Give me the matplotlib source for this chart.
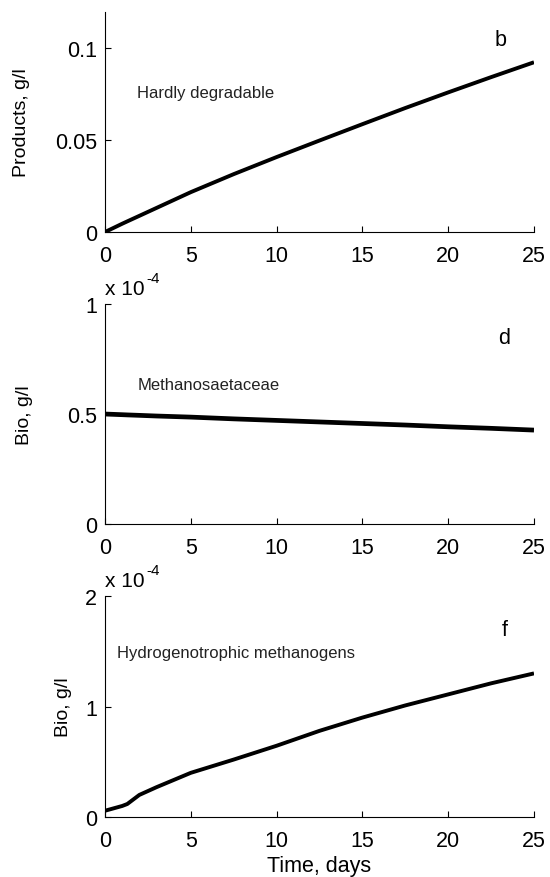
import numpy as np
import matplotlib

matplotlib.use("Agg")
import matplotlib.pyplot as plt

plt.rcParams["font.family"] = ["Liberation Sans", "DejaVu Sans"]

# time axis, days
days = [0, 1, 1.3, 2, 3, 5, 7.5, 10, 12.5, 15, 17.5, 20, 22.5, 25]

# hardly degradable products, g/l
products = [0.0, 0.0045, 0.0058, 0.0088, 0.0131, 0.0217, 0.0315, 0.0408,
            0.0498, 0.0587, 0.0675, 0.0760, 0.0843, 0.0924]

# Methanosaetaceae biomass, x 1e-4 g/l
methanosaeta = [0.500, 0.497, 0.496, 0.494, 0.491, 0.486, 0.478, 0.471,
                0.464, 0.457, 0.450, 0.442, 0.435, 0.427]

# hydrogenotrophic methanogens biomass, x 1e-4 g/l
hydro = [0.057, 0.10, 0.118, 0.20, 0.27, 0.40, 0.52, 0.645,
         0.78, 0.90, 1.01, 1.11, 1.21, 1.30]

panels = [
    dict(y=products, ylim=(0, 0.12), yticks=[0, 0.05, 0.1], yticklabels=["0", "0.05", "0.1"],
         ylabel="Products, g/l", ylabel_x=-0.175, lw=2.8,
         name="Hardly degradable", name_xy=(1.86, 0.0762),
         tag="b", tag_xy=(22.7, 0.105), sci=False),
    dict(y=methanosaeta, ylim=(0, 1), yticks=[0, 0.5, 1], yticklabels=["0", "0.5", "1"],
         ylabel="Bio, g/l", ylabel_x=-0.168, lw=3.4,
         name="Methanosaetaceae", name_xy=(1.92, 0.636),
         tag="d", tag_xy=(22.9, 0.85), sci=True),
    dict(y=hydro, ylim=(0, 2), yticks=[0, 1, 2], yticklabels=["0", "1", "2"],
         ylabel="Bio, g/l", ylabel_x=-0.077, lw=2.8,
         name="Hydrogenotrophic methanogens", name_xy=(0.70, 1.49),
         tag="f", tag_xy=(23.1, 1.70), sci=True),
]

fig = plt.figure(figsize=(5.5, 8.78), dpi=100)
rects = [
    [0.1909, 0.7346, 0.780, 0.2511],
    [0.1909, 0.4020, 0.780, 0.2506],
    [0.1909, 0.0683, 0.780, 0.2517],
]

for rect, p in zip(rects, panels):
    ax = fig.add_axes(rect)
    ax.plot(days, p["y"], color="black", lw=p["lw"], solid_capstyle="butt")
    ax.set_xlim(0, 25)
    ax.set_ylim(*p["ylim"])
    ax.set_xticks([0, 5, 10, 15, 20, 25])
    ax.set_yticks(p["yticks"])
    ax.set_yticklabels(p["yticklabels"])
    ax.spines["top"].set_visible(False)
    ax.spines["right"].set_visible(False)
    for s in ("left", "bottom"):
        ax.spines[s].set_linewidth(0.8)
    ax.tick_params(direction="in", length=4, width=0.8, labelsize=15.5)
    ax.tick_params(axis="x", pad=9)
    ax.tick_params(axis="y", pad=5.5)
    ax.set_ylabel(p["ylabel"], fontsize=14)
    ax.yaxis.set_label_coords(p["ylabel_x"], 0.5)
    ax.text(*p["name_xy"], p["name"], fontsize=12, color="#222222",
            va="center", ha="left")
    ax.text(*p["tag_xy"], p["tag"], fontsize=15.5, va="center", ha="left")
    if p["sci"]:
        t = ax.annotate("x 10", xy=(0.0, 1.0), xycoords="axes fraction",
                        xytext=(0, 7), textcoords="offset points",
                        fontsize=15, ha="left", va="baseline")
        ax.annotate("-4", xy=(1.0, 0.72), xycoords=t, xytext=(1, 0),
                    textcoords="offset points", fontsize=11, ha="left", va="bottom")

ax.set_xlabel("Time, days", fontsize=15.5, labelpad=3)

fig.savefig("out.png", dpi=100)
